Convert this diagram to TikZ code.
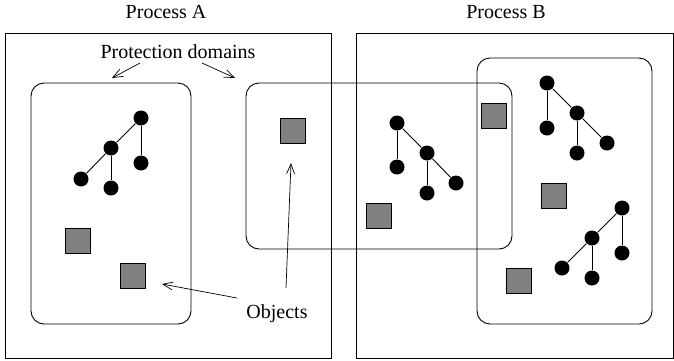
\documentclass[tikz,border=0pt]{standalone}
\usepackage{fontspec}
\setmainfont{Liberation Serif}
\usetikzlibrary{arrows.meta,positioning}

\tikzset{
  dot/.style={circle, fill=black, inner sep=0pt, minimum size=15pt},
  obj/.style={draw, fill=gray, line width=0.7pt, inner sep=0pt, minimum size=25pt},
  pdomain/.style={draw, line width=0.9pt, rounded corners=13pt},
  pointer/.style={-{Straight Barb[length=10pt,width=8pt]}, line width=0.7pt},
  lbl/.style={font=\fontsize{20}{24}\selectfont, anchor=base, inner sep=0pt}
}

\begin{document}
\begin{tikzpicture}[x=1pt, y=-1pt, line width=0.9pt]
      \useasboundingbox (0,0) rectangle (674,360);

      %% the two processes
      \node[lbl] (pa) at (166,18) {Process A};
      \node[lbl] (pb) at (506,18) {Process B};
      \draw (5,33) rectangle (331,358);
      \draw (356,33) rectangle (673,358);

      %% protection domains
      \draw[pdomain] (31,83) rectangle (191,324);
      \draw[pdomain] (246,83) rectangle (512,249);
      \draw[pdomain] (477,58) rectangle (652,324);

      \node[lbl] (pd) at (178,58) {Protection domains};
      \coordinate (pdl) at (112,78);
      \coordinate (pdr) at (235,78);
      \draw[pointer] (140,63) -- (pdl);
      \draw[pointer] (202,63) -- (pdr);

      %% tree in process A
      \node[dot] (a1) at (141,118) {};
      \node[dot] (a2) at (111,148) {};
      \node[dot] (a3) at (141,163) {};
      \node[dot] (a4) at (81,179) {};
      \node[dot] (a5) at (111,188) {};
      \draw (a1) -- (a2);
      \draw (a1) -- (a3);
      \draw (a2) -- (a4);
      \draw (a2) -- (a5);

      %% tree in the shared domain
      \node[dot] (b1) at (397,123) {};
      \node[dot] (b2) at (397,167) {};
      \node[dot] (b3) at (427,153) {};
      \node[dot] (b4) at (427,193) {};
      \node[dot] (b5) at (456,183) {};
      \draw (b1) -- (b2);
      \draw (b1) -- (b3);
      \draw (b3) -- (b4);
      \draw (b3) -- (b5);

      %% trees in process B
      \node[dot] (c1) at (547,83) {};
      \node[dot] (c2) at (547,128) {};
      \node[dot] (c3) at (577,113) {};
      \node[dot] (c4) at (577,153) {};
      \node[dot] (c5) at (607,143) {};
      \draw (c1) -- (c2);
      \draw (c1) -- (c3);
      \draw (c3) -- (c4);
      \draw (c3) -- (c5);

      \node[dot] (d1) at (622,208) {};
      \node[dot] (d2) at (592,238) {};
      \node[dot] (d3) at (622,253) {};
      \node[dot] (d4) at (562,268) {};
      \node[dot] (d5) at (592,278) {};
      \draw (d1) -- (d2);
      \draw (d1) -- (d3);
      \draw (d2) -- (d4);
      \draw (d2) -- (d5);

      %% objects
      \node[obj] (o1) at (78,241) {};
      \node[obj] (o2) at (133,276) {};
      \node[obj] (o3) at (293,131) {};
      \node[obj] (o4) at (494,116) {};
      \node[obj] (o5) at (379,216) {};
      \node[obj] (o6) at (554,196) {};
      \node[obj] (o7) at (519,281) {};

      \node[lbl] (objs) at (277,318) {Objects};
      \coordinate (objl) at (162,284);
      \coordinate (objm) at (291,163);
      \draw[pointer] (237,298) -- (objl);
      \draw[pointer] (286,288) -- (objm);

    \end{tikzpicture}
\end{document}
